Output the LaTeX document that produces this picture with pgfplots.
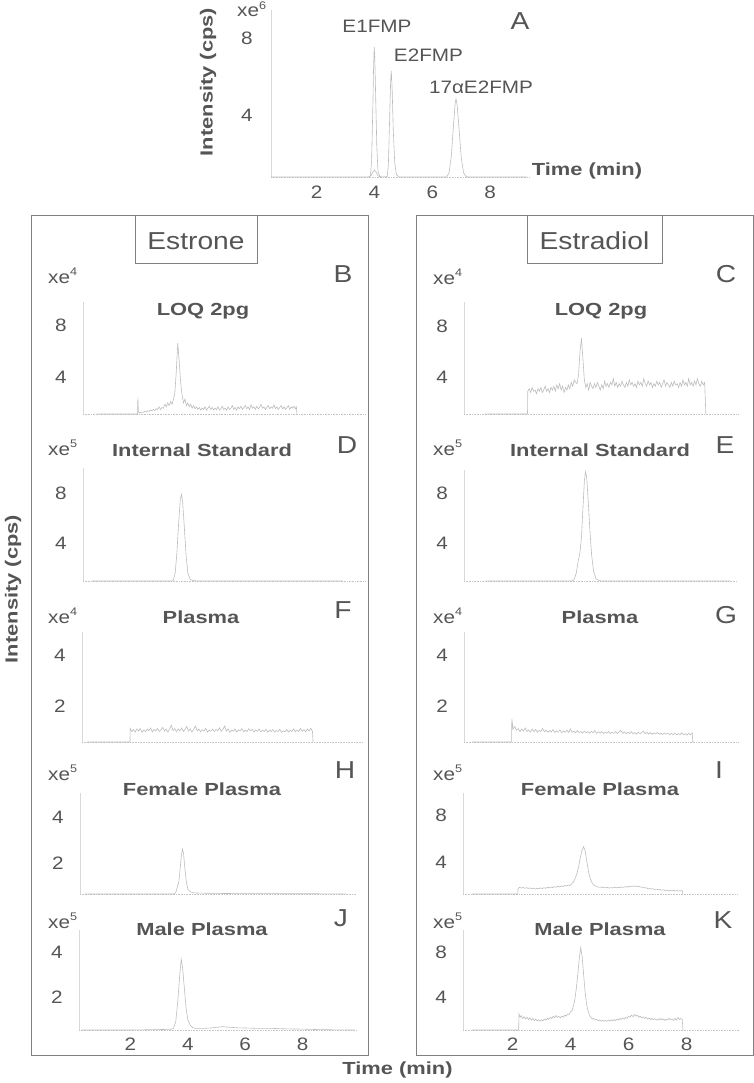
\documentclass[border=0pt]{standalone}
\usepackage{fontspec}
\setmainfont{Liberation Sans}[FakeStretch=1.15]
\newfontfamily\bfont{Liberation Sans}[FakeStretch=1.25]
\usepackage{pgfplots}
\pgfplotsset{compat=1.18}
\definecolor{txt}{HTML}{555555}
\definecolor{boxc}{HTML}{808080}
\definecolor{datac}{HTML}{BDBDBD}
\definecolor{yaxc}{HTML}{D9D9D9}
\definecolor{xaxc}{HTML}{C4C4C4}
\newcommand\reg{\fontsize{18}{20}\selectfont}
\newcommand\bld{\bfont\bfseries\fontsize{17.5}{20}\selectfont}
\newcommand\lrg{\fontsize{24.5}{28}\selectfont}
\newcommand\xe[1]{xe\raisebox{0.42em}{\fontsize{11}{11}\selectfont #1}}
\pgfplotsset{
  chrom/.style={
    scale only axis, anchor=south west, clip=false,
    axis x line*=bottom, axis y line*=left,
    axis line style={-},
    x axis line style={draw=xaxc, densely dotted, line width=0.6pt},
    y axis line style={draw=yaxc, line width=0.7pt},
    major tick length=0pt, tick style={draw=none},
    tick label style={text=txt, font=\reg},
    xticklabel style={anchor=center, yshift=-14pt},
    yticklabel style={anchor=center, xshift=-22pt},
    cycle list={{draw=datac, mark=none, line width=0.6pt},{draw=datac, mark=none, line width=0.6pt}},
    xtick=\empty, ytick={4,8}, yticklabels={4,8},
  },
  bottomx/.style={xtick={2,4,6,8}, xticklabels={2,4,6,8}},
}
\begin{document}
\begin{tikzpicture}
\path[use as bounding box] (0,0) rectangle (754pt,-1083pt);

% ---------- Panel A ----------
\begin{axis}[chrom, bottomx, at={(271pt,-177pt)}, width=259pt, height=167pt,
  xmin=0.42, xmax=9.38, ymin=0.78, ymax=9.45,
  xticklabel style={yshift=-1pt}, yticklabel style={xshift=-2pt}]
\addplot coordinates {(0.42,0.78)(3.8,0.78)(3.86,0.85)(3.9,1.6)(3.94,4.2)(3.97,6.6)(3.99,7.53)(4.01,7.0)(4.04,5.0)(4.08,2.4)(4.12,1.1)(4.18,0.82)(4.25,0.78)(4.44,0.8)(4.48,1.4)(4.52,3.6)(4.56,5.8)(4.58,6.29)(4.61,5.4)(4.65,3.2)(4.7,1.5)(4.76,0.9)(4.85,0.78)(6.5,0.78)(6.58,1.0)(6.66,1.9)(6.73,3.4)(6.79,4.6)(6.82,4.83)(6.86,4.5)(6.93,3.2)(7.0,1.8)(7.08,1.0)(7.16,0.82)(7.25,0.78)(9.27,0.78)};
\addplot[draw=datac, mark=none, line width=0.6pt] coordinates {(3.8,0.78)(3.88,0.85)(3.95,1.05)(4.0,1.14)(4.05,1.05)(4.12,0.85)(4.2,0.78)};
\end{axis}

% ---------- Panel B ----------
\begin{axis}[chrom, at={(83pt,-414pt)}, width=282pt, height=112pt,
  xmin=0.35, xmax=10.17, ymin=1.15, ymax=9.77]
\addplot coordinates {(0.84,1.15)(2.25,1.15)(2.26,2.4)(2.28,1.3)(2.35,1.25)(2.4,1.3)(2.45,1.28)(2.5,1.35)(2.55,1.3)(2.6,1.4)(2.65,1.35)(2.7,1.45)(2.75,1.4)(2.8,1.5)(2.85,1.42)(2.9,1.55)(2.95,1.5)(3.0,1.7)(3.05,1.5)(3.1,1.65)(3.15,1.6)(3.2,1.9)(3.25,1.7)(3.3,2.0)(3.35,1.8)(3.4,2.1)(3.45,1.9)(3.5,2.3)(3.55,2.8)(3.6,4.5)(3.65,6.6)(3.7,5.2)(3.75,3.6)(3.8,2.6)(3.85,2.0)(3.9,2.3)(3.95,1.8)(4.0,2.0)(4.05,1.7)(4.1,1.9)(4.15,1.6)(4.2,1.8)(4.25,1.55)(4.3,1.7)(4.35,1.5)(4.4,1.65)(4.45,1.45)(4.5,1.6)(4.55,1.5)(4.6,1.7)(4.65,1.45)(4.7,1.6)(4.75,1.75)(4.8,1.5)(4.85,1.65)(4.9,1.45)(4.95,1.6)(5.0,1.5)(5.05,1.7)(5.1,1.45)(5.15,1.55)(5.2,1.75)(5.25,1.5)(5.3,1.6)(5.35,1.45)(5.4,1.7)(5.45,1.5)(5.5,1.6)(5.55,1.8)(5.6,1.5)(5.65,1.65)(5.7,1.45)(5.75,1.7)(5.8,1.55)(5.85,1.75)(5.9,1.5)(5.95,1.65)(6.0,1.8)(6.05,1.55)(6.1,1.7)(6.15,1.5)(6.2,1.85)(6.25,1.6)(6.3,1.7)(6.35,1.5)(6.4,1.75)(6.45,1.55)(6.5,1.65)(6.55,1.9)(6.6,1.6)(6.65,1.7)(6.7,1.5)(6.75,1.65)(6.8,1.8)(6.85,1.55)(6.9,1.7)(6.95,1.6)(7.0,1.85)(7.05,1.55)(7.1,1.7)(7.15,1.5)(7.2,1.65)(7.25,1.8)(7.3,1.55)(7.35,1.7)(7.4,1.5)(7.45,1.65)(7.5,1.8)(7.55,1.5)(7.6,1.7)(7.65,1.6)(7.7,1.75)(7.75,1.55)(7.78,1.7)(7.8,1.15)};
\end{axis}

% ---------- Panel C ----------
\begin{axis}[chrom, at={(464pt,-414pt)}, width=274pt, height=112pt,
  xmin=0.33, xmax=9.78, ymin=1.1, ymax=9.96]
\addplot coordinates {(1.05,1.1)(2.52,1.1)(2.53,2.9)(2.58,3.1)(2.63,2.8)(2.68,3.2)(2.73,2.9)(2.78,3.0)(2.83,2.7)(2.88,3.1)(2.93,2.9)(2.98,3.2)(3.03,2.8)(3.08,3.0)(3.13,3.3)(3.18,2.9)(3.23,3.1)(3.28,2.8)(3.33,3.2)(3.38,3.0)(3.43,3.3)(3.48,2.9)(3.53,3.4)(3.58,3.1)(3.63,3.5)(3.68,3.0)(3.73,3.3)(3.78,2.8)(3.83,3.2)(3.88,3.0)(3.93,3.4)(3.98,3.1)(4.03,3.6)(4.08,3.3)(4.13,3.8)(4.18,3.6)(4.23,3.5)(4.28,4.2)(4.33,6.0)(4.38,7.1)(4.43,5.5)(4.48,3.8)(4.53,3.2)(4.58,3.5)(4.63,3.0)(4.68,3.6)(4.73,3.3)(4.78,3.1)(4.83,3.5)(4.88,3.2)(4.93,3.6)(4.98,3.3)(5.03,3.0)(5.08,3.4)(5.13,3.1)(5.18,3.7)(5.23,3.3)(5.28,3.5)(5.33,3.2)(5.38,3.6)(5.43,3.4)(5.48,3.9)(5.53,3.3)(5.58,3.6)(5.63,3.2)(5.68,3.5)(5.73,3.3)(5.78,3.7)(5.83,3.4)(5.88,3.2)(5.93,3.6)(5.98,3.3)(6.03,3.8)(6.08,3.4)(6.13,3.6)(6.18,3.3)(6.23,3.5)(6.28,3.2)(6.33,3.7)(6.38,3.4)(6.43,3.6)(6.48,3.3)(6.53,3.9)(6.58,3.5)(6.63,3.3)(6.68,3.7)(6.73,3.4)(6.78,3.6)(6.83,3.2)(6.88,3.5)(6.93,3.3)(6.98,3.7)(7.03,3.4)(7.08,3.6)(7.13,3.2)(7.18,3.5)(7.23,3.8)(7.28,3.3)(7.33,3.6)(7.38,3.4)(7.43,3.2)(7.48,3.6)(7.53,3.3)(7.58,3.7)(7.63,3.4)(7.68,3.5)(7.73,3.2)(7.78,3.6)(7.83,3.3)(7.88,3.8)(7.93,3.4)(7.98,3.6)(8.03,3.3)(8.08,3.9)(8.13,3.4)(8.18,3.6)(8.23,3.3)(8.28,3.7)(8.33,3.4)(8.38,3.9)(8.43,3.5)(8.48,3.3)(8.53,3.7)(8.58,3.4)(8.63,3.6)(8.67,1.1)};
\end{axis}

% ---------- Panel D ----------
\begin{axis}[chrom, at={(83pt,-581pt)}, width=282pt, height=113pt,
  xmin=0.35, xmax=10.17, ymin=0.96, ymax=10]
\addplot coordinates {(0.66,0.96)(3.45,0.96)(3.5,1.05)(3.56,1.6)(3.62,3.2)(3.68,5.6)(3.74,7.5)(3.78,7.9)(3.82,7.3)(3.88,5.2)(3.94,3.0)(4.0,1.6)(4.08,1.1)(4.18,1.0)(4.35,0.96)(9.4,0.96)};
\end{axis}

% ---------- Panel E ----------
\begin{axis}[chrom, at={(464pt,-581pt)}, width=273pt, height=111pt,
  xmin=0.33, xmax=9.74, ymin=0.96, ymax=9.84]
\addplot coordinates {(1.1,0.96)(4.05,0.96)(4.12,1.05)(4.2,1.6)(4.27,2.6)(4.33,3.3)(4.38,4.5)(4.43,6.8)(4.48,9.0)(4.52,9.7)(4.56,9.2)(4.61,7.4)(4.67,5.0)(4.73,3.0)(4.8,1.7)(4.88,1.15)(4.98,1.0)(5.1,0.96)(9.5,0.96)};
\end{axis}

% ---------- Panel F ----------
\begin{axis}[chrom, at={(82pt,-742pt)}, width=281pt, height=110pt,
  xmin=0.31, xmax=10.1, ymin=0.59, ymax=4.9, ytick={2,4}, yticklabels={2,4}]
\addplot coordinates {(0.5,0.59)(1.98,0.59)(1.99,1.12)(2.04,1.0)(2.1,1.08)(2.16,0.98)(2.22,1.1)(2.28,1.02)(2.34,1.12)(2.4,0.97)(2.46,1.06)(2.52,1.0)(2.58,1.1)(2.64,1.03)(2.7,1.14)(2.76,0.99)(2.82,1.08)(2.88,1.02)(2.94,1.12)(3.0,1.0)(3.06,1.07)(3.12,1.16)(3.18,1.02)(3.24,1.1)(3.3,0.98)(3.36,1.09)(3.42,1.25)(3.48,1.04)(3.54,1.12)(3.6,0.99)(3.66,1.1)(3.72,1.03)(3.78,1.14)(3.84,1.0)(3.9,1.09)(3.96,1.2)(4.02,1.02)(4.08,1.11)(4.14,0.98)(4.2,1.08)(4.26,1.22)(4.32,1.03)(4.38,1.1)(4.44,0.99)(4.5,1.07)(4.56,1.02)(4.62,1.13)(4.68,0.98)(4.74,1.06)(4.8,1.01)(4.86,1.1)(4.92,1.0)(4.98,1.08)(5.04,1.03)(5.1,1.15)(5.16,1.0)(5.22,1.09)(5.28,1.22)(5.34,1.02)(5.4,1.1)(5.46,0.97)(5.52,1.06)(5.58,1.01)(5.64,1.1)(5.7,0.98)(5.76,1.07)(5.82,1.02)(5.88,1.12)(5.94,0.99)(6.0,1.06)(6.06,1.0)(6.12,1.11)(6.18,1.03)(6.24,1.08)(6.3,0.98)(6.36,1.06)(6.42,1.01)(6.48,1.1)(6.54,0.99)(6.6,1.05)(6.66,1.0)(6.72,1.09)(6.78,0.97)(6.84,1.05)(6.9,1.0)(6.96,1.08)(7.02,0.98)(7.08,1.04)(7.14,1.0)(7.2,1.09)(7.26,0.97)(7.32,1.03)(7.38,0.99)(7.44,1.08)(7.5,0.98)(7.56,1.05)(7.62,1.0)(7.68,1.1)(7.74,0.99)(7.8,1.06)(7.86,1.0)(7.92,1.12)(7.98,1.01)(8.04,1.07)(8.1,0.99)(8.16,1.1)(8.22,1.02)(8.28,1.13)(8.34,1.0)(8.36,0.59)};
\end{axis}

% ---------- Panel G ----------
\begin{axis}[chrom, at={(464pt,-742pt)}, width=274pt, height=110pt,
  xmin=0.33, xmax=9.78, ymin=0.59, ymax=4.9, ytick={2,4}, yticklabels={2,4}]
\addplot coordinates {(0.6,0.59)(1.97,0.59)(1.98,1.5)(2.02,1.1)(2.08,1.2)(2.14,1.05)(2.2,1.12)(2.26,1.0)(2.32,1.1)(2.38,1.02)(2.44,1.14)(2.5,1.0)(2.56,1.06)(2.62,0.98)(2.68,1.1)(2.74,1.0)(2.8,1.08)(2.86,0.97)(2.92,1.05)(2.98,1.0)(3.04,1.12)(3.1,0.99)(3.16,1.06)(3.22,0.97)(3.28,1.04)(3.34,0.98)(3.4,1.08)(3.46,0.96)(3.52,1.03)(3.58,0.98)(3.64,1.06)(3.7,0.95)(3.76,1.02)(3.82,0.97)(3.88,1.05)(3.94,0.96)(4.0,1.1)(4.06,0.97)(4.12,1.02)(4.18,0.95)(4.24,1.04)(4.3,0.96)(4.36,1.0)(4.42,0.94)(4.48,1.02)(4.54,0.95)(4.6,1.0)(4.66,0.93)(4.72,1.01)(4.78,0.95)(4.84,1.04)(4.9,0.93)(4.96,0.99)(5.02,0.94)(5.08,1.0)(5.14,0.92)(5.2,0.98)(5.26,0.93)(5.32,1.01)(5.38,0.92)(5.44,0.97)(5.5,0.93)(5.56,1.0)(5.62,0.92)(5.68,0.98)(5.74,1.05)(5.8,0.93)(5.86,0.99)(5.92,0.91)(5.98,0.97)(6.04,0.92)(6.1,1.0)(6.16,0.91)(6.22,0.96)(6.28,0.9)(6.34,0.98)(6.4,0.91)(6.46,0.96)(6.52,1.02)(6.58,0.91)(6.64,0.97)(6.7,0.9)(6.76,0.96)(6.82,0.89)(6.88,0.95)(6.94,0.9)(7.0,0.97)(7.06,0.89)(7.12,0.94)(7.18,0.88)(7.24,0.95)(7.3,0.89)(7.36,0.94)(7.42,0.87)(7.48,0.93)(7.54,0.88)(7.6,0.94)(7.66,0.87)(7.72,0.92)(7.78,0.88)(7.84,0.95)(7.9,0.87)(7.96,0.92)(8.02,0.86)(8.08,0.93)(8.14,0.87)(8.2,0.95)(8.22,0.59)};
\end{axis}

% ---------- Panel H ----------
\begin{axis}[chrom, at={(80pt,-894pt)}, width=276pt, height=101pt,
  xmin=0.24, xmax=9.86, ymin=0.65, ymax=5.04, ytick={2,4}, yticklabels={2,4}]
\addplot coordinates {(0.4,0.65)(3.5,0.65)(3.58,0.72)(3.64,1.0)(3.68,1.15)(3.72,1.6)(3.77,2.3)(3.81,2.6)(3.85,2.4)(3.9,1.7)(3.95,1.15)(4.0,0.85)(4.08,0.75)(4.2,0.7)(4.4,0.69)(4.8,0.68)(5.5,0.67)(6.5,0.67)(7.5,0.66)(8.5,0.66)(9.5,0.65)};
\end{axis}

% ---------- Panel I ----------
\begin{axis}[chrom, at={(463pt,-894pt)}, width=275pt, height=101pt,
  xmin=0.29, xmax=9.78, ymin=1.28, ymax=9.87]
\addplot coordinates {(0.6,1.28)(2.18,1.28)(2.19,1.75)(2.24,1.85)(2.3,1.78)(2.36,1.84)(2.42,1.76)(2.48,1.82)(2.54,1.75)(2.6,1.8)(2.66,1.72)(2.72,1.78)(2.78,1.7)(2.84,1.76)(2.9,1.72)(2.96,1.8)(3.02,1.74)(3.08,1.82)(3.14,1.76)(3.2,1.85)(3.26,1.8)(3.32,1.88)(3.38,1.82)(3.44,1.9)(3.5,1.86)(3.56,1.94)(3.62,1.88)(3.68,1.96)(3.74,1.92)(3.8,2.0)(3.86,1.95)(3.92,2.05)(3.98,2.0)(4.04,2.15)(4.1,2.3)(4.16,2.6)(4.22,3.0)(4.28,3.6)(4.34,4.4)(4.4,5.0)(4.45,5.3)(4.5,5.0)(4.56,4.1)(4.62,3.2)(4.68,2.6)(4.74,2.25)(4.8,2.05)(4.86,1.95)(4.92,1.9)(4.98,1.85)(5.04,1.88)(5.1,1.82)(5.16,1.86)(5.22,1.8)(5.28,1.84)(5.34,1.78)(5.4,1.83)(5.46,1.79)(5.52,1.85)(5.58,1.8)(5.64,1.86)(5.7,1.82)(5.76,1.88)(5.82,1.84)(5.88,1.9)(5.94,1.86)(6.0,1.93)(6.06,1.88)(6.12,1.96)(6.18,1.92)(6.24,1.97)(6.3,1.9)(6.36,1.94)(6.42,1.86)(6.48,1.88)(6.54,1.8)(6.6,1.82)(6.66,1.75)(6.72,1.78)(6.78,1.7)(6.84,1.73)(6.9,1.66)(6.96,1.7)(7.02,1.64)(7.08,1.67)(7.14,1.6)(7.2,1.64)(7.26,1.58)(7.32,1.62)(7.38,1.56)(7.44,1.6)(7.5,1.55)(7.56,1.59)(7.62,1.54)(7.68,1.58)(7.74,1.53)(7.8,1.57)(7.86,1.55)(7.88,1.28)};
\end{axis}

% ---------- Panel J ----------
\begin{axis}[chrom, bottomx, at={(79pt,-1030pt)}, width=277pt, height=100pt,
  xmin=0.21, xmax=9.86, ymin=0.53, ymax=5.0, ytick={2,4}, yticklabels={2,4}]
\addplot coordinates {(0.3,0.53)(2.0,0.53)(2.5,0.54)(3.0,0.55)(3.4,0.56)(3.5,0.6)(3.58,0.9)(3.65,1.8)(3.72,3.0)(3.77,3.7)(3.82,3.3)(3.88,2.4)(3.94,1.5)(4.0,1.0)(4.08,0.75)(4.18,0.63)(4.3,0.6)(4.5,0.6)(4.8,0.62)(5.0,0.65)(5.2,0.68)(5.4,0.66)(5.7,0.63)(6.0,0.62)(6.5,0.6)(7.0,0.6)(7.5,0.58)(8.0,0.57)(8.5,0.55)(9.0,0.54)(9.8,0.53)};
\end{axis}

% ---------- Panel K ----------
\begin{axis}[chrom, bottomx, at={(463pt,-1030pt)}, width=276pt, height=100pt,
  xmin=0.29, xmax=9.81, ymin=1.07, ymax=9.96]
\addplot coordinates {(0.6,1.07)(2.21,1.07)(2.22,2.5)(2.26,2.2)(2.3,2.35)(2.35,2.1)(2.4,2.25)(2.45,2.05)(2.5,2.2)(2.55,2.0)(2.6,2.15)(2.65,1.95)(2.7,2.1)(2.75,1.9)(2.8,2.05)(2.85,1.88)(2.9,2.0)(2.95,1.85)(3.0,1.98)(3.05,1.9)(3.1,2.05)(3.15,1.95)(3.2,2.12)(3.25,2.0)(3.3,2.2)(3.35,2.1)(3.4,2.3)(3.45,2.15)(3.5,2.35)(3.55,2.2)(3.6,2.28)(3.65,2.15)(3.7,2.3)(3.75,2.2)(3.8,2.4)(3.85,2.3)(3.9,2.5)(3.95,2.45)(4.0,2.7)(4.05,2.8)(4.1,3.2)(4.15,3.8)(4.2,4.8)(4.25,6.0)(4.3,7.4)(4.35,8.4)(4.4,7.6)(4.45,6.0)(4.5,4.5)(4.55,3.4)(4.6,2.8)(4.65,2.4)(4.7,2.2)(4.75,2.05)(4.8,2.1)(4.85,1.95)(4.9,2.02)(4.95,1.88)(5.0,1.98)(5.05,1.85)(5.1,1.95)(5.15,1.85)(5.2,1.92)(5.25,1.84)(5.3,1.95)(5.35,1.86)(5.4,1.98)(5.45,1.88)(5.5,2.0)(5.55,1.9)(5.6,2.05)(5.65,1.95)(5.7,2.1)(5.75,2.0)(5.8,2.15)(5.85,2.05)(5.9,2.2)(5.95,2.1)(6.0,2.3)(6.05,2.2)(6.1,2.4)(6.15,2.25)(6.2,2.45)(6.25,2.3)(6.3,2.4)(6.35,2.2)(6.4,2.3)(6.45,2.15)(6.5,2.25)(6.55,2.1)(6.6,2.2)(6.65,2.05)(6.7,2.15)(6.75,2.0)(6.8,2.1)(6.85,1.98)(6.9,2.08)(6.95,1.95)(7.0,2.05)(7.05,1.95)(7.1,2.1)(7.15,1.98)(7.2,2.05)(7.25,1.92)(7.3,2.02)(7.35,1.95)(7.4,2.12)(7.45,1.98)(7.5,2.05)(7.55,1.92)(7.6,2.1)(7.65,1.95)(7.7,2.18)(7.75,2.0)(7.8,2.1)(7.85,2.0)(7.88,1.07)};
\end{axis}

\begin{scope}[x=1pt, y=-1pt, every node/.style={text=txt, inner sep=0pt}]
% frames
\draw[boxc, line width=0.8pt] (31,215) rectangle (368,1055);
\draw[boxc, line width=0.8pt] (416,215) rectangle (753,1055);
\draw[boxc, line width=0.8pt] (135,215) rectangle (257,263);
\draw[boxc, line width=0.8pt] (527,215) rectangle (662,263);
\node[anchor=base, font=\lrg] at (196,250) {Estrone};
\node[anchor=base, font=\lrg] at (594.5,250) {Estradiol};
% panel A texts
\node[anchor=base west, font=\reg] at (237,17) {\xe{6}};
\node[anchor=base, font=\reg] at (377,33) {E1FMP};
\node[anchor=base, font=\reg] at (428.5,62) {E2FMP};
\node[anchor=base, font=\reg] at (481,94) {17αE2FMP};
\node[anchor=base, font=\lrg] at (520,30) {A};
\node[rotate=90, font=\bld] at (208,82) {Intensity (cps)};
\node[font=\bld] at (587,171) {Time (min)};
% global axis labels
\node[rotate=90, font=\bld] at (13,589) {Intensity (cps)};
\node[font=\bld] at (397.5,1070) {Time (min)};
% exponents
\foreach \yy/\ee in {283/4,455/5,623/4,780/5,928/5}{\node[anchor=base west, font=\reg] at (48,\yy) {\xe{\ee}};}
\foreach \yy/\ee in {284/4,455/5,623/4,780/5,928/5}{\node[anchor=base west, font=\reg] at (433,\yy) {\xe{\ee}};}
% titles
\node[anchor=base, font=\bld] at (203,315) {LOQ 2pg};
\node[anchor=base, font=\bld] at (601,315) {LOQ 2pg};
\node[anchor=base, font=\bld] at (202,456) {Internal Standard};
\node[anchor=base, font=\bld] at (600,456) {Internal Standard};
\node[anchor=base, font=\bld] at (201,623) {Plasma};
\node[anchor=base, font=\bld] at (600,623) {Plasma};
\node[anchor=base, font=\bld] at (202,795) {Female Plasma};
\node[anchor=base, font=\bld] at (600,795) {Female Plasma};
\node[anchor=base, font=\bld] at (202,935) {Male Plasma};
\node[anchor=base, font=\bld] at (600,935) {Male Plasma};
% panel letters
\node[anchor=base, font=\lrg] at (343,282) {B};
\node[anchor=base, font=\lrg] at (726,282) {C};
\node[anchor=base, font=\lrg] at (347,453) {D};
\node[anchor=base, font=\lrg] at (725,453) {E};
\node[anchor=base, font=\lrg] at (343,618) {F};
\node[anchor=base, font=\lrg] at (726,623) {G};
\node[anchor=base, font=\lrg] at (345,778) {H};
\node[anchor=base, font=\lrg] at (719,778) {I};
\node[anchor=base, font=\lrg] at (341,926) {J};
\node[anchor=base, font=\lrg] at (723,928) {K};
\end{scope}
\end{tikzpicture}
\end{document}
